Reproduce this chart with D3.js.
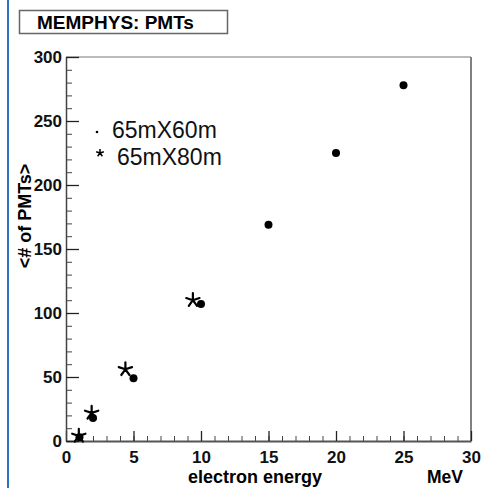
<!DOCTYPE html>
<html lang='en'>
	<head>
		<meta charset='utf-8'>
		<title>MEMPHYS: PMTs</title>
		<script type='text/javascript' src='https://d3js.org/d3.v7.min.js'></script>
		<style type='text/css'>
			body { margin: 0; background: white; }
			text { font-family: 'Liberation Sans', Arial, sans-serif; }
			.tick text { font-weight: bold; font-size: 17px; fill: #111; }
			.ylabel { font-weight: bold; font-size: 18px; }
		</style>
	</head>
	<body>
		<script type='text/javascript'>
			// 65mX60m detector (dots)
			var energy60 = [1, 2, 5, 10, 15, 20, 25];
			var pmts60 = [3, 18, 49, 107, 169, 225, 278];
			// 65mX80m detector (stars)
			var energy80 = [0.95, 1.9, 4.4, 9.4];
			var pmts80 = [4, 22, 56, 110];

			var xTicks = [0, 5, 10, 15, 20, 25, 30];
			var yTicks = [0, 50, 100, 150, 200, 250, 300];
			var legendLabels = ['65mX60m', '65mX80m'];

			var w = 504;
			var h = 488;

			var svg = d3.select('body')
				.append('svg')
				.attr('width', w)
				.attr('height', h);

			// blue bar on the left edge
			svg.append('line')
				.attr('x1', 8).attr('x2', 8)
				.attr('y1', 0).attr('y2', h)
				.attr('stroke', '#2a72c0')
				.attr('stroke-width', 2);

			var xScale = d3.scaleLinear().domain([0, 30]).range([66, 471]);
			var yScale = d3.scaleLinear().domain([0, 300]).range([441, 57]);

			// frame top / right
			svg.append('line')
				.attr('x1', 66).attr('x2', 471).attr('y1', 57).attr('y2', 57)
				.attr('stroke', '#bbb').attr('stroke-width', 2);
			svg.append('line')
				.attr('x1', 471).attr('x2', 471).attr('y1', 57).attr('y2', 441)
				.attr('stroke', '#808080').attr('stroke-width', 2);

			// minor ticks
			svg.append('g')
				.attr('transform', 'translate(0,441)')
				.call(d3.axisBottom(xScale).tickValues(d3.range(0, 31, 1)).tickSize(-5).tickFormat(''))
				.call(function(g) { g.select('.domain').remove(); g.selectAll('line').attr('stroke', '#444'); });
			svg.append('g')
				.attr('transform', 'translate(66,0)')
				.call(d3.axisLeft(yScale).tickValues(d3.range(0, 301, 10)).tickSize(-6).tickFormat(''))
				.call(function(g) { g.select('.domain').remove(); g.selectAll('line').attr('stroke', '#444'); });

			// major ticks + labels
			var xAxis = svg.append('g')
				.attr('transform', 'translate(0,441)')
				.call(d3.axisBottom(xScale).tickValues(xTicks).tickSize(-10).tickPadding(10).tickSizeOuter(0));
			xAxis.select('.domain').attr('stroke', '#555').attr('stroke-width', 2);
			xAxis.selectAll('line').attr('stroke', '#222').attr('stroke-width', 1.3);

			var yAxis = svg.append('g')
				.attr('transform', 'translate(66,0)')
				.call(d3.axisLeft(yScale).tickValues(yTicks).tickSize(-13).tickPadding(4).tickSizeOuter(0));
			yAxis.select('.domain').attr('stroke', '#444').attr('stroke-width', 1.5);
			yAxis.selectAll('line').attr('stroke', '#222').attr('stroke-width', 1.3);

			// axis titles
			svg.append('text')
				.attr('x', 255).attr('y', 483)
				.attr('text-anchor', 'middle')
				.style('font-weight', 'bold').style('font-size', '18px')
				.text('electron energy');
			svg.append('text')
				.attr('x', 463).attr('y', 483)
				.attr('text-anchor', 'end')
				.style('font-weight', 'bold').style('font-size', '17.5px')
				.text('MeV');
			svg.append('text')
				.attr('class', 'ylabel')
				.attr('transform', 'translate(31,216) rotate(-90)')
				.attr('text-anchor', 'middle')
				.text('<# of PMTs>');

			// title box
			svg.append('rect')
				.attr('x', 19.5).attr('y', 10.5)
				.attr('width', 208).attr('height', 23)
				.attr('fill', 'white')
				.attr('stroke', '#666').attr('stroke-width', 1.5);
			svg.append('text')
				.attr('x', 37).attr('y', 29)
				.style('font-weight', 'bold').style('font-size', '19px')
				.text('MEMPHYS: PMTs');

			// 5-armed asterisk
			function star(r) {
				var p = d3.path();
				for (var k = 0; k < 5; k++) {
					var a = -Math.PI / 2 + k * 2 * Math.PI / 5;
					p.moveTo(0, 0);
					p.lineTo(r * Math.cos(a), r * Math.sin(a));
				}
				return p.toString();
			}

			var data60 = energy60.map(function(d, i) { return { e: d, n: pmts60[i] }; });
			var data80 = energy80.map(function(d, i) { return { e: d, n: pmts80[i] }; });

			svg.selectAll('circle.p60')
				.data(data60)
				.enter()
				.append('circle')
				.attr('class', 'p60')
				.attr('cx', function(d) { return xScale(d.e); })
				.attr('cy', function(d) { return yScale(d.n); })
				.attr('r', 4)
				.attr('fill', 'black');

			svg.selectAll('path.p80')
				.data(data80)
				.enter()
				.append('path')
				.attr('class', 'p80')
				.attr('transform', function(d) { return 'translate(' + xScale(d.e) + ',' + yScale(d.n) + ')'; })
				.attr('d', star(7))
				.attr('stroke', 'black')
				.attr('stroke-width', 2.2)
				.attr('stroke-linecap', 'round')
				.attr('fill', 'none');

			// legend
			svg.append('circle')
				.attr('cx', 97).attr('cy', 132).attr('r', 1.3).attr('fill', 'black');
			svg.append('path')
				.attr('transform', 'translate(100,153)')
				.attr('d', star(4))
				.attr('stroke', 'black').attr('stroke-width', 1.5)
				.attr('fill', 'none');
			svg.selectAll('text.leg')
				.data(legendLabels)
				.enter()
				.append('text')
				.attr('class', 'leg')
				.attr('x', function(d, i) { return i === 0 ? 112 : 117; })
				.attr('y', function(d, i) { return 138 + i * 27; })
				.style('font-size', '23px')
				.attr('fill', '#111')
				.text(function(d) { return d; });
		</script>
	</body>
</html>
